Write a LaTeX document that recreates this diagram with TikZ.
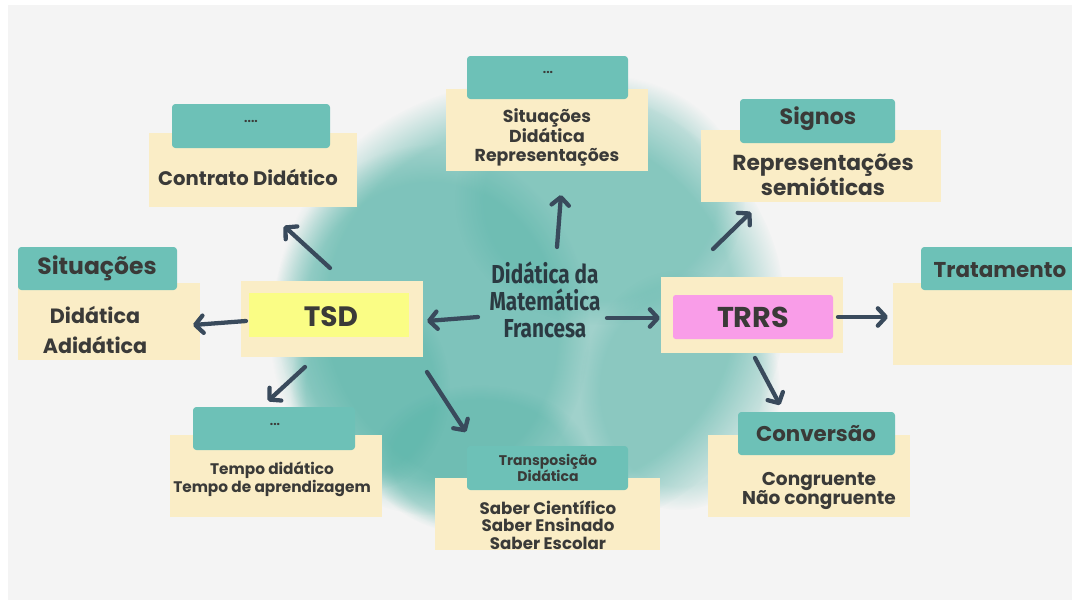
\documentclass[tikz,border=0pt]{standalone}
\usepackage{fontspec}
\usepackage{graphicx}
\setmainfont{Poppins}
\newfontfamily\centerfont{Fira Sans}
\usetikzlibrary{arrows.meta,fit,fadings}
\definecolor{bgc}{HTML}{F4F4F4}
\definecolor{tealb}{HTML}{6DC1B7}
\definecolor{cream}{HTML}{FAEDC6}
\definecolor{tsdy}{HTML}{FAFD85}
\definecolor{trrsp}{HTML}{F99DE8}
\definecolor{arrc}{HTML}{394A5C}
\definecolor{txtc}{HTML}{3A3A38}
\definecolor{ctxt}{HTML}{2B3A42}
\definecolor{splash}{HTML}{4DB0A3}
\tikzset{
  creambox/.style={fill=cream, inner sep=0pt, draw=none},
  tealbox/.style={fill=tealb, rounded corners=2.5pt, inner sep=0pt, draw=none},
  lbl/.style={text=txtc, align=center, inner sep=0pt, font=\bfseries#1},
  arrw/.style={draw=arrc, line width=3.2pt, line cap=round, line join=round,
    -{Straight Barb[length=6pt,width=13pt,line cap=round,line join=round]}},
  blob/.style={fill=splash, fill opacity=#1, path fading=circle with fuzzy edge 20 percent},
}
\newcommand{\fs}[1]{\fontsize{#1}{#1}\selectfont}
\begin{document}
\begin{tikzpicture}[x=0.75pt,y=-0.75pt]
\useasboundingbox (0,0) rectangle (1072,600);
\fill[white] (0,0) rectangle (1072,600);
\fill[bgc] (8,5) rectangle (1072,600);
% splash
\fill[blob=0.5] (530,310) ellipse [x radius=255, y radius=230];
\fill[blob=0.4] (430,330) ellipse [x radius=160, y radius=185];
\fill[blob=0.3] (600,200) ellipse [x radius=145, y radius=125];
\fill[blob=0.25] (680,390) ellipse [x radius=100, y radius=120];
\fill[blob=0.3] (480,460) ellipse [x radius=110, y radius=75];
\fill[blob=0.3] (370,390) ellipse [x radius=80, y radius=100];

% Contrato
\node[creambox, fit={(149,133) (357,207)}] (ccream) {};
\node[tealbox, fit={(172,104) (330,148)}] (cteal) {};
\node[lbl=\fs{9}] (cdots) at (251,121) {....};
\node[lbl=\fs{14.7}] (ctext) at (248,177) {Contrato Didático};

% top middle
\node[creambox, fit={(446,89) (648,171)}] (mcream) {};
\node[tealbox, fit={(467,56) (628,99)}] (mteal) {};
\node[lbl=\fs{9}] (mdots) at (548,72) {...};
\node[lbl=\fs{13}, execute at begin node={\baselineskip=14pt}] (mtext) at (547,137) {Situações\\Didática\\Representações};

% Signos
\node[creambox, fit={(701,130) (941,202)}] (scream) {};
\node[tealbox, fit={(740,99) (895,143)}] (steal) {};
\node[lbl=\fs{16.6}] (shead) at (818,119) {Signos};
\node[lbl=\fs{16.3}, execute at begin node={\baselineskip=19pt}] (stext) at (823,175) {Representações\\semióticas};

% Situacoes left
\node[creambox, fit={(18,283) (200,360)}] (lcream) {};
\node[tealbox, fit={(18,247) (177,290)}] (lteal) {};
\node[lbl=\fs{17.6}] (lhead) at (97,268) {Situações};
\node[lbl=\fs{15.5}, execute at begin node={\baselineskip=22pt}] (ltext) at (95,330) {Didática\\Adidática};

% TSD
\node[creambox, fit={(241,281) (423,357)}] (tsdcream) {};
\node[fill=tsdy, inner sep=0pt, fit={(249,293) (409,337)}] (tsdbox) {};
\node[lbl=\fs{21}] (tsdtext) at (331,317) {TSD};

% center
\node[text=ctxt, align=center, inner sep=0pt, font=\centerfont\bfseries\fontsize{19.5}{20}\selectfont] (center) at (545,300)
  {\scalebox{0.8}[1]{Didática da}\\\scalebox{0.8}[1]{Matemática}\\\scalebox{0.8}[1]{Francesa}};

% TRRS
\node[creambox, fit={(661,277) (843,353)}] (trrscream) {};
\node[fill=trrsp, rounded corners=2pt, inner sep=0pt, fit={(673,295) (833,339)}] (trrsbox) {};
\node[lbl=\fs{21.5}] (trrstext) at (753,317) {TRRS};

% Tratamento
\node[creambox, fit={(893,283) (1072,365)}] (rcream) {};
\node[tealbox, fit={(921,247) (1080,290)}] (rteal) {};
\node[lbl=\fs{16.1}] (rhead) at (1000,270) {Tratamento};

% Tempo
\node[creambox, fit={(170,435) (382,517)}] (tcream) {};
\node[tealbox, fit={(193,407) (355,450)}] (tteal) {};
\node[lbl=\fs{9}] (tdots) at (275,424) {...};
\node[lbl=\fs{11.5}, execute at begin node={\baselineskip=13.5pt}] (ttext) at (272,479) {Tempo didático\\Tempo de aprendizagem};

% Transposicao
\node[creambox, fit={(435,478) (660,550)}] (xcream) {};
\node[tealbox, fit={(467,446) (628,490)}] (xteal) {};
\node[lbl=\fs{10.5}, execute at begin node={\baselineskip=12.5pt}] (xhead) at (548,468) {Transposição\\Didática};
\node[lbl=\fs{12.5}, execute at begin node={\baselineskip=13pt}] (xtext) at (548,525) {Saber Científico\\Saber Ensinado\\Saber Escolar};

% Conversao
\node[creambox, fit={(708,435) (910,517)}] (vcream) {};
\node[tealbox, fit={(738,412) (895,455)}] (vteal) {};
\node[lbl=\fs{16}] (vhead) at (816,434) {Conversão};
\node[lbl=\fs{13.9}, execute at begin node={\baselineskip=14.5pt}] (vtext) at (819,491) {Congruente\\Não congruente};

% arrows
\coordinate (a1s) at (330,268); \coordinate (a1e) at (284,226);
\coordinate (a2s) at (246,321); \coordinate (a2e) at (193,325);
\coordinate (a3s) at (305,367); \coordinate (a3e) at (268,401);
\coordinate (a4s) at (478,317); \coordinate (a4e) at (427,321);
\coordinate (a5s) at (607,318); \coordinate (a5e) at (660,318);
\coordinate (a6s) at (557,247); \coordinate (a6e) at (561,195);
\coordinate (a7s) at (427,372); \coordinate (a7e) at (466,432);
\coordinate (a8s) at (713,249); \coordinate (a8e) at (751,212);
\coordinate (a9s) at (838,317); \coordinate (a9e) at (888,317);
\coordinate (a10s) at (755,358); \coordinate (a10e) at (780,405);
\foreach \i in {1,...,10} {\draw[arrw] (a\i s) -- (a\i e);}
\end{tikzpicture}
\end{document}
